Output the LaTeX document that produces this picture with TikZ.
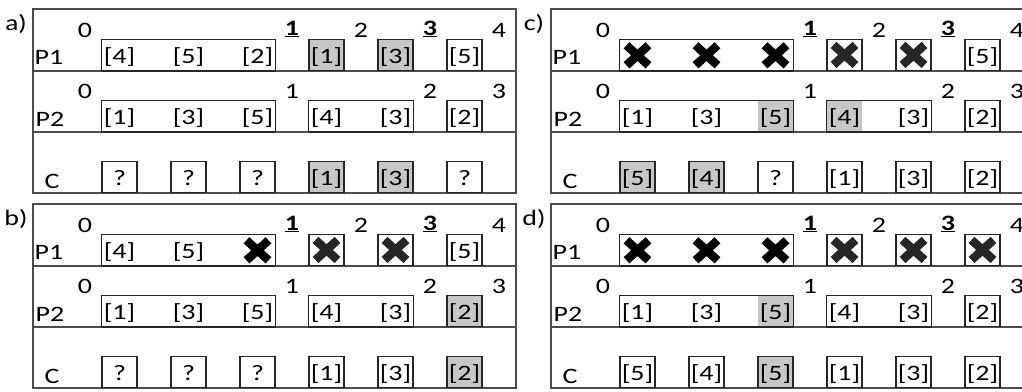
\documentclass[tikz,border=0pt]{standalone}
\usepackage{fontspec}
\setmainfont{Carlito}[FakeStretch=1.27]
\usetikzlibrary{calc}

\tikzset{
  frame/.style={draw=black!70, line width=1.4pt},
  group/.style={draw=black!85, line width=1.1pt},
  cell/.style={minimum width=35pt, minimum height=31pt, inner sep=0pt, anchor=south,
    text height=17pt, text depth=0pt},
  boxed/.style={cell, draw=black!85, line width=1.1pt},
  hit/.style={boxed, fill=black!22},
  hitin/.style={cell, fill=black!22},
  gone/.style={cell, path picture={
      \draw[line width=8.5pt]
        ($(path picture bounding box.center)+(-11,-10)$) -- ($(path picture bounding box.center)+(11,10)$)
        ($(path picture bounding box.center)+(-11,10)$) -- ($(path picture bounding box.center)+(11,-10)$);}},
  gonebox/.style={gone, boxed},
  idx/.style={anchor=base},
}

% frame, row names and indices of one panel
\newcommand{\panelframe}[2]{%
  \draw[frame] (33,9) rectangle (516,193);
  \draw[frame] (33,71) -- (516,71);
  \draw[frame] (33,132) -- (516,132);
  \node[idx] (#1-lab) at (16,30) {#2};
  \node[idx] (#1-r1) at (49,64) {P1};
  \node[idx] (#1-r2) at (50,126) {P2};
  \node[idx] (#1-r3) at (52,188) {C};
  \node[idx] (#1-t0) at (85,37) {0};
  \node[idx] (#1-t1) at (292,35) {\underline{\textbf{1}}};
  \node[idx] (#1-t2) at (361,37) {2};
  \node[idx] (#1-t3) at (430,35) {\underline{\textbf{3}}};
  \node[idx] (#1-t4) at (499,37) {4};
  \node[idx] (#1-u0) at (85,98) {0};
  \node[idx] (#1-u1) at (292,98) {1};
  \node[idx] (#1-u2) at (430,98) {2};
  \node[idx] (#1-u3) at (499,98) {3};
}
\newcommand{\groupboxes}[1]{%
  \draw[group] (#1-p1-1.south west) rectangle (#1-p1-3.north east);
  \draw[group] (#1-p2-1.south west) rectangle (#1-p2-3.north east);
  \draw[group] (#1-p2-4.south west) rectangle (#1-p2-5.north east);
}

\begin{document}
\begin{tikzpicture}[x=1pt, y=-1pt, every node/.append style={font=\fontsize{22}{24}\selectfont}]
  \useasboundingbox (0,0) rectangle (1022,391);

  % a)
  \begin{scope}
    \panelframe{a}{a)}
    \foreach \v/\s [count=\i] in {[4]/cell,[5]/cell,[2]/cell,[1]/hit,[3]/hit,[5]/boxed}
      \node[\s] (a-p1-\i) at (50.5+69*\i, 71) {\v};
    \foreach \v/\s [count=\i] in {[1]/cell,[3]/cell,[5]/cell,[4]/cell,[3]/cell,[2]/boxed}
      \node[\s] (a-p2-\i) at (50.5+69*\i, 132) {\v};
    \foreach \v/\s [count=\i] in {?/boxed,?/boxed,?/boxed,[1]/hit,[3]/hit,?/boxed}
      \node[\s] (a-c-\i) at (50.5+69*\i, 193) {\v};
    \groupboxes{a}
  \end{scope}

  % b)
  \begin{scope}[shift={(0,195)}]
    \panelframe{b}{b)}
    \foreach \v/\s [count=\i] in {[4]/cell,[5]/cell,/gone,/gonebox,/gonebox,[5]/boxed}
      \node[\s] (b-p1-\i) at (50.5+69*\i, 71) {\v};
    \foreach \v/\s [count=\i] in {[1]/cell,[3]/cell,[5]/cell,[4]/cell,[3]/cell,[2]/hit}
      \node[\s] (b-p2-\i) at (50.5+69*\i, 132) {\v};
    \foreach \v/\s [count=\i] in {?/boxed,?/boxed,?/boxed,[1]/boxed,[3]/boxed,[2]/hit}
      \node[\s] (b-c-\i) at (50.5+69*\i, 193) {\v};
    \groupboxes{b}
  \end{scope}

  % c)
  \begin{scope}[shift={(518,0)}]
    \panelframe{c}{c)}
    \foreach \v/\s [count=\i] in {/gone,/gone,/gone,/gonebox,/gonebox,[5]/boxed}
      \node[\s] (c-p1-\i) at (50.5+69*\i, 71) {\v};
    \foreach \v/\s [count=\i] in {[1]/cell,[3]/cell,[5]/hitin,[4]/hitin,[3]/cell,[2]/boxed}
      \node[\s] (c-p2-\i) at (50.5+69*\i, 132) {\v};
    \foreach \v/\s [count=\i] in {[5]/hit,[4]/hit,?/boxed,[1]/boxed,[3]/boxed,[2]/boxed}
      \node[\s] (c-c-\i) at (50.5+69*\i, 193) {\v};
    \groupboxes{c}
  \end{scope}

  % d)
  \begin{scope}[shift={(518,195)}]
    \panelframe{d}{d)}
    \foreach \v/\s [count=\i] in {/gone,/gone,/gone,/gonebox,/gonebox,/gonebox}
      \node[\s] (d-p1-\i) at (50.5+69*\i, 71) {\v};
    \foreach \v/\s [count=\i] in {[1]/cell,[3]/cell,[5]/hitin,[4]/cell,[3]/cell,[2]/boxed}
      \node[\s] (d-p2-\i) at (50.5+69*\i, 132) {\v};
    \foreach \v/\s [count=\i] in {[5]/boxed,[4]/boxed,[5]/hit,[1]/boxed,[3]/boxed,[2]/boxed}
      \node[\s] (d-c-\i) at (50.5+69*\i, 193) {\v};
    \groupboxes{d}
  \end{scope}
\end{tikzpicture}
\end{document}
